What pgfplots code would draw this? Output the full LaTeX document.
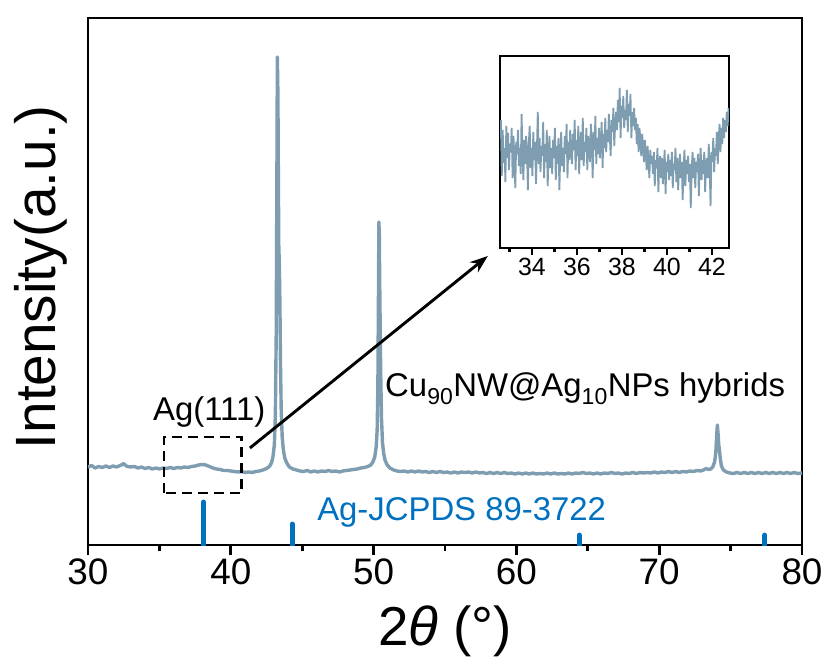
\documentclass[border=0pt]{standalone}
\usepackage{fontspec}
\setmainfont{Liberation Sans}
\usepackage{pgfplots}
\usepackage{pgfplotstable}
\pgfplotsset{compat=1.18}
\usetikzlibrary{arrows.meta}
\definecolor{dataline}{RGB}{127,157,177}
\definecolor{refblue}{RGB}{0,112,192}

\pgfplotstableread{
x y
30.00 78
30.25 79.5
30.50 77
30.75 78.5
31.00 77.5
31.25 79
31.50 77.5
31.75 79
32.00 78
32.25 79.5
32.40 80.5
32.50 81.5
32.60 80
32.75 78.5
33.00 78
33.25 78.5
33.50 77
33.75 78
34.00 76.5
34.25 77.5
34.50 76
34.75 77
35.00 76
35.25 77
35.50 76.5
35.75 77.5
36.00 76.5
36.25 77.5
36.50 77
36.75 78
37.00 77.5
37.25 78.5
37.50 79
37.75 80
38.00 80.5
38.25 80
38.50 78.5
38.75 77
39.00 76
39.25 75.5
39.50 74.5
39.75 74.5
40.00 74
40.25 73.5
40.50 73
40.75 73.5
41.00 72.5
41.25 73
41.50 72.5
41.75 73.5
42.00 74
42.25 75
42.50 76.5
42.70 78.5
42.85 82
42.95 88
43.05 100
43.12 130
43.18 210
43.22 340
43.26 488
43.30 450
43.33 370
43.36 300
43.40 280
43.44 240
43.48 180
43.53 135
43.60 108
43.68 95
43.78 87
43.92 82
44.10 78
44.35 76
44.60 75
44.85 74
45.10 73.5
45.35 74.5
45.60 73
45.85 74
46.10 73
46.35 74
46.60 73.5
46.85 74.5
47.10 73.5
47.35 74
47.60 73
47.85 74
48.10 74.5
48.35 75
48.60 75.5
48.85 76
49.10 77
49.35 77.5
49.60 78.5
49.80 80
49.95 83
50.08 88
50.18 98
50.25 115
50.30 160
50.34 250
50.37 323
50.40 310
50.43 260
50.46 220
50.50 170
50.55 128
50.62 103
50.70 92
50.80 85
50.95 80
51.15 77
51.40 75
51.65 74
51.90 73.5
52.15 74
52.40 73
52.65 74
52.90 73
53.15 74
53.40 73
53.65 73.5
53.90 72.5
54.15 73.5
54.40 72.5
54.65 73.5
54.90 72.5
55.15 73
55.40 72
55.65 73
55.90 72
56.15 73
56.40 72.5
56.65 73
56.90 72
57.15 73
57.40 72
57.65 72.5
57.90 71.5
58.15 72.5
58.40 71.5
58.65 72.5
58.90 71.5
59.15 72.5
59.40 71.5
59.65 72
59.90 71
60.15 72
60.40 71
60.65 72
60.90 71
61.15 72
61.40 71
61.65 71.5
61.90 71
62.15 72
62.40 71
62.65 72
62.90 71
63.15 71.5
63.40 71
63.65 72
63.90 71
64.15 72
64.40 71.5
64.65 72.5
64.90 71.5
65.15 72
65.40 71
65.65 72
65.90 71
66.15 72
66.40 71.5
66.65 72.5
66.90 71.5
67.15 72
67.40 71
67.65 72
67.90 71.5
68.15 72.5
68.40 71.5
68.65 72.5
68.90 72
69.15 72.5
69.40 72
69.65 73
69.90 72
70.15 73
70.40 72.5
70.65 73.5
70.90 72.5
71.15 73.5
71.40 72.5
71.65 73.5
71.90 73
72.15 74
72.40 73.5
72.65 74.5
72.90 74
73.10 75
73.30 76.5
73.45 75.5
73.60 76
73.75 78
73.88 83
73.96 92
74.02 108
74.07 120
74.12 112
74.17 100
74.22 95
74.28 86
74.36 79
74.50 75
74.70 73
74.95 72
75.20 71.5
75.45 72.5
75.70 71.5
75.95 72.5
76.20 71.5
76.45 72.5
76.70 71.5
76.95 72.5
77.20 71.5
77.45 72.5
77.70 71.5
77.95 72.5
78.20 71.5
78.45 72.5
78.70 71.5
78.95 72.5
79.20 71.5
79.45 72.5
79.70 71.5
80.00 72
}\maindata

\pgfplotstableread{
x y
32.58 110
32.62 128
32.66 72
32.70 118
32.74 85
32.78 100
32.82 66
32.86 122
32.90 90
32.94 115
32.98 78
33.02 104
33.06 96
33.10 120
33.14 70
33.18 112
33.22 88
33.26 60
33.30 106
33.34 94
33.38 118
33.42 82
33.46 100
33.50 74
33.54 134
33.58 92
33.62 68
33.66 108
33.70 84
33.74 112
33.78 96
33.82 58
33.86 104
33.90 122
33.94 80
33.98 100
34.02 72
34.06 116
34.10 88
34.14 106
34.18 64
34.22 98
34.26 136
34.30 84
34.34 110
34.38 76
34.42 102
34.46 92
34.50 126
34.54 70
34.58 104
34.62 86
34.66 118
34.70 62
34.74 96
34.78 112
34.82 80
34.86 100
34.90 74
34.94 108
34.98 90
35.02 120
35.06 68
35.10 102
35.14 84
35.18 110
35.22 58
35.26 94
35.30 116
35.34 82
35.38 100
35.42 76
35.46 112
35.50 94
35.54 124
35.58 70
35.62 106
35.66 88
35.70 118
35.74 96
35.78 84
35.82 114
35.86 98
35.90 128
35.94 78
35.98 108
36.02 92
36.06 122
36.10 74
36.14 104
36.18 116
36.22 88
36.26 130
36.30 82
36.34 106
36.38 96
36.42 120
36.46 78
36.50 112
36.54 100
36.58 86
36.62 124
36.66 104
36.70 70
36.74 116
36.78 98
36.82 132
36.86 84
36.90 110
36.94 94
36.98 120
37.02 90
37.06 108
37.10 126
37.14 80
37.18 114
37.22 100
37.26 130
37.30 96
37.34 118
37.38 106
37.42 134
37.46 112
37.50 92
37.54 128
37.58 116
37.62 140
37.66 102
37.70 124
37.74 136
37.78 118
37.82 148
37.86 126
37.90 160
37.94 110
37.98 142
38.02 130
38.06 152
38.10 120
38.14 138
38.18 128
38.22 158
38.26 116
38.30 144
38.34 132
38.38 154
38.42 110
38.46 136
38.50 122
38.54 140
38.58 118
38.62 130
38.66 104
38.70 124
38.74 96
38.78 120
38.82 108
38.86 92
38.90 114
38.94 100
38.98 86
39.02 108
39.06 94
39.10 78
39.14 102
39.18 88
39.22 70
39.26 98
39.30 84
39.34 92
39.38 74
39.42 96
39.46 62
39.50 88
39.54 80
39.58 100
39.62 56
39.66 84
39.70 92
39.74 70
39.78 90
39.82 64
39.86 82
39.90 98
39.94 54
39.98 86
40.02 76
40.06 94
40.10 68
40.14 88
40.18 72
40.22 96
40.26 60
40.30 84
40.34 78
40.38 100
40.42 66
40.46 90
40.50 58
40.54 82
40.58 94
40.62 70
40.66 86
40.70 48
40.74 80
40.78 98
40.82 62
40.86 88
40.90 74
40.94 92
40.98 66
41.02 84
41.06 40
41.10 78
41.14 96
41.18 70
41.22 90
41.26 60
41.30 86
41.34 76
41.38 94
41.42 52
41.46 82
41.50 100
41.54 68
41.58 88
41.62 74
41.66 96
41.70 56
41.74 84
41.78 90
41.82 70
41.86 104
41.90 80
41.94 42
41.98 96
42.02 86
42.06 110
42.10 76
42.14 100
42.18 92
42.22 116
42.26 84
42.30 108
42.34 124
42.38 96
42.42 120
42.46 104
42.50 130
42.54 110
42.58 128
42.62 116
42.66 136
42.70 122
42.74 140
42.76 132
}\insetdata

\begin{document}
\begin{tikzpicture}
\begin{axis}[
  at={(0,0)}, anchor=south west,
  scale only axis, width=714bp, height=527bp,
  xmin=30, xmax=80, ymin=0, ymax=527,
  axis line style={line width=2.8bp},
  xtick={30,40,...,80}, minor xtick={35,45,...,75},
  ytick=\empty,
  tick align=outside, xtick pos=bottom,
  major tick length=10bp, minor tick length=6bp,
  every tick/.style={line width=2.8bp, black},
  xticklabel style={font=\fontsize{37}{40}\selectfont},
  /pgf/number format/assume math mode=true,
  xlabel={2\textit{θ} (°)},
  xlabel style={font=\fontsize{55}{60}\selectfont, at={(axis description cs:0.5,0)}, anchor=base, yshift=-100bp},
  ylabel={Intensity(a.u.)},
  ylabel style={font=\fontsize{57}{60}\selectfont, at={(axis description cs:-0.0658,0.508)}, anchor=center},
]
\addplot[dataline, line width=3.4bp, line join=round] table[x=x, y=y] {\maindata};
\addplot[ycomb, refblue, line width=4.8bp, line cap=round] coordinates {(38.1,43) (44.3,21) (64.4,10) (77.4,10)};
\node[anchor=base west, inner sep=0pt, font=\fontsize{33}{36}\selectfont] at (axis cs:34.55,124) {Ag(111)};
\node[anchor=base west, inner sep=0pt, font=\fontsize{33}{36}\selectfont] at (axis cs:50.80,148) {Cu\textsubscript{90}NW@Ag\textsubscript{10}NPs hybrids};
\node[anchor=base west, inner sep=0pt, font=\fontsize{33}{36}\selectfont, text=refblue] at (axis cs:46.04,25) {Ag-JCPDS 89-3722};
\draw[black, line width=2.9bp, dash pattern=on 10bp off 6bp] (axis cs:35.32,52) rectangle (axis cs:40.78,108);
\draw[black, line width=2.9bp, -{Stealth[length=18bp, width=13bp]}] (axis cs:41.34,97) -- (axis cs:58.0,289);
\end{axis}
\begin{axis}[
  at={(412bp,297bp)}, anchor=south west,
  scale only axis, width=229bp, height=192bp,
  xmin=32.58, xmax=42.76, ymin=0, ymax=192,
  axis line style={line width=2.8bp},
  xtick={34,36,...,42}, minor xtick={33,35,...,41},
  ytick=\empty,
  tick align=outside, xtick pos=bottom,
  major tick length=7bp, minor tick length=4bp,
  every tick/.style={line width=2.4bp, black},
  xticklabel style={font=\fontsize{25}{28}\selectfont},
  /pgf/number format/assume math mode=true,
  axis background/.style={fill=white},
]
\addplot[dataline, line width=1.8bp] table[x=x, y=y] {\insetdata};
\end{axis}
\pgfresetboundingbox
\path[use as bounding box] (-88bp,-125bp) rectangle (741bp,545bp);
\end{tikzpicture}
\end{document}
